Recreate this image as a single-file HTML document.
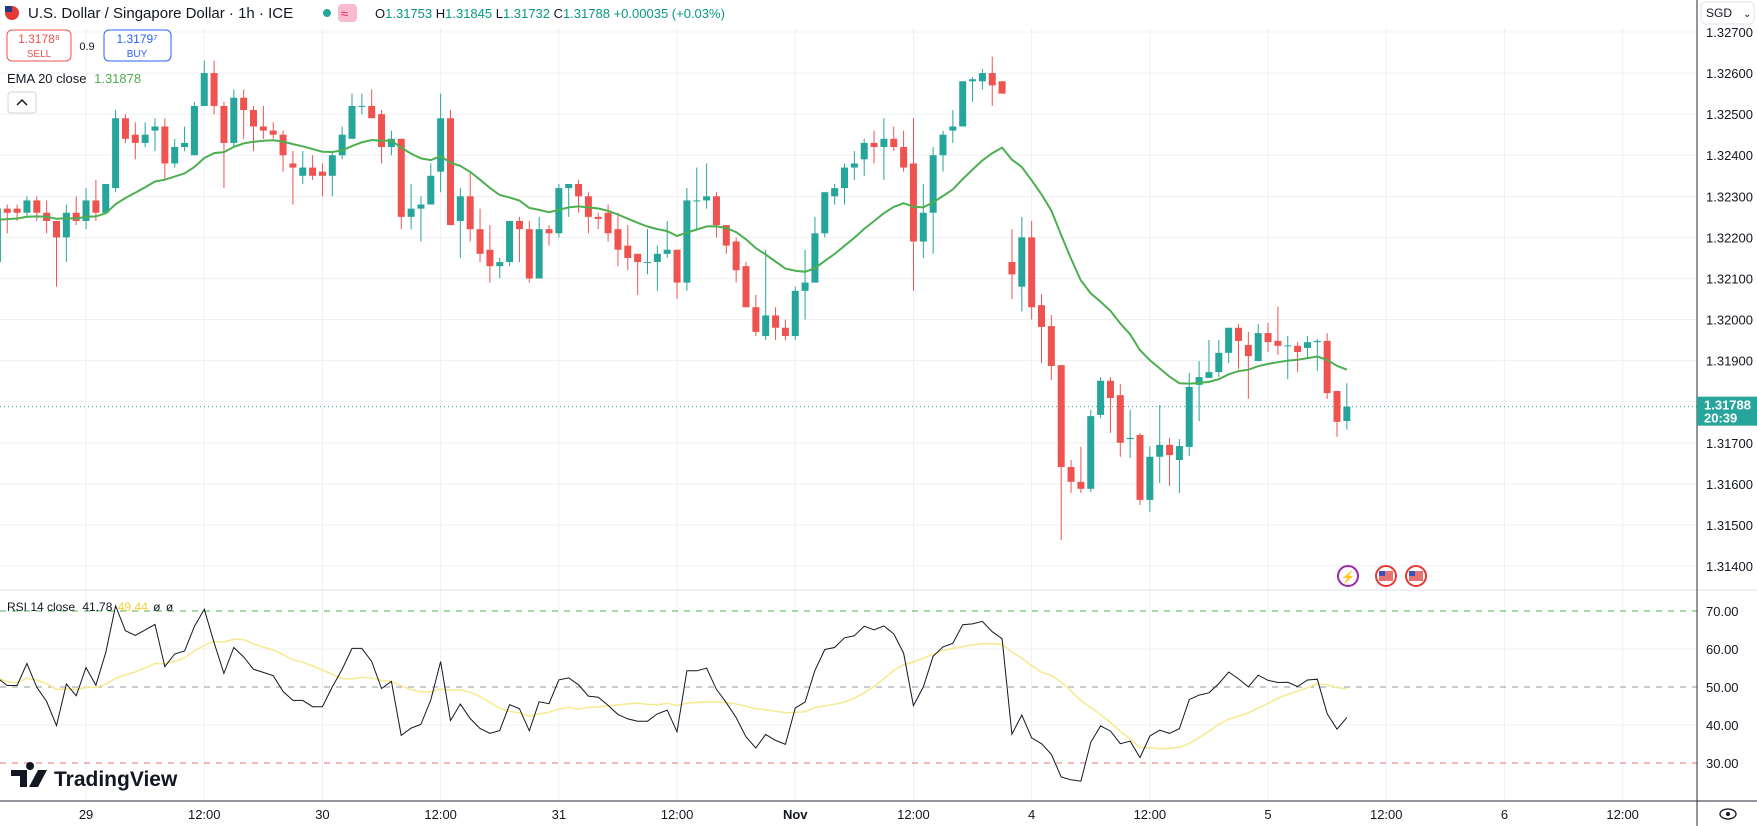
<!DOCTYPE html>
<html><head><meta charset="utf-8"><style>
html,body{margin:0;padding:0;background:#fff;}
svg{display:block;font-family:"Liberation Sans",sans-serif;}
</style></head><body>
<svg id="chart" width="1757" height="826" viewBox="0 0 1757 826" xmlns="http://www.w3.org/2000/svg">
<rect x="0" y="0" width="1757" height="826" fill="#fff"/>
<g id="grid"></g>
<g id="candles"></g>
<g id="ema"></g>
<g id="rsi"></g>
<g id="axes"></g>
<g>
  <circle cx="12" cy="13" r="7" fill="#e53935"/>
  <rect x="5" y="6" width="7" height="6" fill="#1e3a8a"/>
  <text x="28" y="18" font-size="15" fill="#131722">U.S. Dollar / Singapore Dollar · 1h · ICE</text>
  <circle cx="327" cy="13" r="4" fill="#26a69a"/>
  <rect x="338" y="4" width="19" height="18" rx="4" fill="#f8bbd0"/>
  <text x="341" y="18" font-size="13" fill="#e91e63">≈</text>
  <text x="375" y="18" font-size="13" fill="#131722">O<tspan fill="#089981">1.31753</tspan> H<tspan fill="#089981">1.31845</tspan> L<tspan fill="#089981">1.31732</tspan> C<tspan fill="#089981">1.31788</tspan> <tspan fill="#089981">+0.00035 (+0.03%)</tspan></text>
  <rect x="7" y="30" width="64" height="31" rx="5" fill="#fff" stroke="#ef5350"/>
  <text x="39" y="43" font-size="12" fill="#ef5350" text-anchor="middle">1.3178⁸</text>
  <text x="39" y="57" font-size="10" fill="#ef5350" text-anchor="middle">SELL</text>
  <text x="87" y="50" font-size="11" fill="#131722" text-anchor="middle">0.9</text>
  <rect x="104" y="30" width="67" height="31" rx="5" fill="#fff" stroke="#2962ff"/>
  <text x="137" y="43" font-size="12" fill="#2962ff" text-anchor="middle">1.3179⁷</text>
  <text x="137" y="57" font-size="10" fill="#2962ff" text-anchor="middle">BUY</text>
  <text x="7" y="83" font-size="13" fill="#131722">EMA 20 close <tspan fill="#4caf50" dx="4">1.31878</tspan></text>
  <rect x="8" y="92" width="28" height="21" rx="3" fill="#fff" stroke="#d1d4dc"/>
  <path d="M17 105 L22 100 L27 105" fill="none" stroke="#131722" stroke-width="1.5"/>
  <text x="7" y="611" font-size="12" fill="#131722">RSI 14 close <tspan dx="4">41.78</tspan> <tspan fill="#f2d23a" dx="2">49.44</tspan> <tspan dx="2">ø</tspan> <tspan dx="2">ø</tspan></text>
  <g>
    <path d="M11 770 h16 v17 h-7 v-11 h-9z M30 770 a4 4 0 1 1 0.1 0z M38 770 h9 l-9 17 h-9z" fill="#131722"/>
    <text x="54" y="786" font-size="21" font-weight="bold" fill="#131722">TradingView</text>
  </g>
  <rect x="1701" y="2" width="53" height="22" rx="4" fill="#fff" stroke="#e0e3eb"/>
  <text x="1706" y="17" font-size="12" fill="#131722">SGD</text>
  <text x="1743" y="17" font-size="10" fill="#131722">⌄</text>
  <g>
    <circle cx="1348" cy="576" r="10" fill="#fff" stroke="#9c27b0" stroke-width="2"/>
    <text x="1348" y="581" font-size="12" fill="#9c27b0" text-anchor="middle">⚡</text>
    <circle cx="1386" cy="576" r="10" fill="#fff" stroke="#e53935" stroke-width="2"/>
    <rect x="1379" y="571" width="14" height="10" fill="#e57373"/><rect x="1379" y="571" width="6" height="5" fill="#3f51b5"/>
    <circle cx="1416" cy="576" r="10" fill="#fff" stroke="#e53935" stroke-width="2"/>
    <rect x="1409" y="571" width="14" height="10" fill="#e57373"/><rect x="1409" y="571" width="6" height="5" fill="#3f51b5"/>
  </g>
  <g>
    <ellipse cx="1728" cy="814" rx="8" ry="5" fill="none" stroke="#131722" stroke-width="1.3"/>
    <circle cx="1728" cy="814" r="2" fill="#131722"/>
  </g>
</g>
</svg>
<script>
const opens=[1.3214,1.3227,1.3227,1.3226,1.3229,1.3226,1.3224,1.3220,1.3226,1.3224,1.3229,1.3226,1.3232,1.3249,1.3245,1.3243,1.3246,1.3247,1.3238,1.3242,1.3240,1.3252,1.3260,1.3252,1.3243,1.3254,1.3251,1.3247,1.3246,1.3245,1.3238,1.3235,1.3237,1.3236,1.3235,1.3240,1.3244,1.3252,1.3252,1.3250,1.3242,1.3244,1.3225,1.3227,1.3228,1.3236,1.3249,1.3224,1.3230,1.3222,1.3217,1.3213,1.3214,1.3224,1.3222,1.3210,1.3222,1.3221,1.3232,1.3233,1.3230,1.3225,1.3226,1.3222,1.3218,1.3216,1.3214,1.3214,1.3216,1.3217,1.3209,1.3229,1.3229,1.3230,1.3223,1.3219,1.3213,1.3203,1.3196,1.3201,1.3198,1.3196,1.3207,1.3209,1.3221,1.3230,1.3232,1.3237,1.3239,1.3243,1.3242,1.3244,1.3242,1.3238,1.3219,1.3226,1.3240,1.3246,1.3247,1.3258,1.3258,1.3260,1.3258,1.3214,1.3208,1.3220,1.32035,1.31984,1.31889,1.31641,1.31605,1.31588,1.31768,1.31851,1.31816,1.31709,1.31719,1.31561,1.31666,1.31695,1.31658,1.31690,1.31841,1.31858,1.31872,1.31919,1.31980,1.31938,1.31899,1.31967,1.31948,1.31936,1.31936,1.31931,1.31945,1.31948,1.31826,1.31753];
const highs=[1.3228,1.3228,1.3228,1.3230,1.3230,1.3229,1.3224,1.3228,1.3230,1.3232,1.3234,1.3233,1.3251,1.3250,1.3248,1.3248,1.3249,1.3249,1.3244,1.3247,1.3253,1.3263,1.3263,1.3253,1.3256,1.3256,1.3252,1.3252,1.3248,1.3246,1.3241,1.3241,1.3240,1.3238,1.3241,1.3247,1.3255,1.3255,1.3256,1.3251,1.3246,1.3244,1.3233,1.3230,1.3238,1.3255,1.3251,1.3232,1.3236,1.3227,1.3223,1.3215,1.3224,1.3225,1.3224,1.3225,1.3223,1.3233,1.3233,1.3234,1.3231,1.3226,1.3228,1.3226,1.3223,1.3216,1.3222,1.3218,1.3224,1.3217,1.3232,1.3237,1.3238,1.3231,1.3223,1.3220,1.3214,1.3206,1.3217,1.3203,1.3200,1.3208,1.3217,1.3225,1.3231,1.3233,1.3238,1.3241,1.3244,1.3246,1.3249,1.3247,1.3246,1.3249,1.3233,1.3242,1.3246,1.3251,1.3258,1.3259,1.3261,1.3264,1.3258,1.3222,1.3225,1.3224,1.32062,1.32011,1.31889,1.31658,1.31690,1.31780,1.31860,1.31860,1.31843,1.31780,1.31724,1.31692,1.31792,1.31712,1.31709,1.31870,1.31899,1.31950,1.31950,1.31980,1.31989,1.31970,1.31989,1.31992,1.32031,1.31960,1.31945,1.31960,1.31953,1.31967,1.31826,1.31845];
const lows=[1.3213,1.3221,1.3224,1.3225,1.3224,1.3221,1.3208,1.3214,1.3223,1.3222,1.3224,1.3226,1.3231,1.3243,1.3239,1.3242,1.3241,1.3234,1.3237,1.3241,1.3240,1.3252,1.3250,1.3232,1.3242,1.3244,1.3241,1.3244,1.3244,1.3236,1.3228,1.3233,1.3234,1.3230,1.3230,1.3239,1.3244,1.3250,1.3249,1.3238,1.3240,1.3222,1.3222,1.3219,1.3228,1.3231,1.3223,1.3215,1.3219,1.3214,1.3209,1.3210,1.3213,1.3214,1.3209,1.3210,1.3218,1.3220,1.3225,1.3226,1.3221,1.3222,1.3219,1.3213,1.3212,1.3206,1.3211,1.3207,1.3215,1.3205,1.3207,1.3222,1.3227,1.3220,1.3216,1.3209,1.3203,1.3196,1.3195,1.3195,1.3195,1.3195,1.3200,1.3209,1.3220,1.3228,1.3228,1.3234,1.3235,1.3238,1.3234,1.3241,1.3236,1.3207,1.3215,1.3216,1.3236,1.3243,1.3247,1.3253,1.3256,1.3252,1.3255,1.3205,1.3202,1.3200,1.31894,1.31853,1.31463,1.31578,1.31578,1.31580,1.31760,1.31724,1.31666,1.31663,1.31549,1.31532,1.31602,1.31595,1.31578,1.31668,1.31753,1.31858,1.31860,1.31894,1.31880,1.31807,1.31899,1.31921,1.31914,1.31855,1.31872,1.31904,1.31875,1.31807,1.31714,1.31732];
const closes=[1.3227,1.3226,1.3226,1.3229,1.3226,1.3224,1.3220,1.3226,1.3224,1.3229,1.3226,1.3233,1.3249,1.3244,1.3243,1.3245,1.3247,1.3238,1.3242,1.3243,1.3252,1.3260,1.3252,1.3243,1.3254,1.3251,1.3247,1.3246,1.3245,1.3240,1.3237,1.3237,1.3235,1.3235,1.3240,1.3245,1.3252,1.3252,1.3249,1.3242,1.3244,1.3225,1.3227,1.3228,1.3235,1.3249,1.3223,1.3230,1.3222,1.3216,1.3213,1.3214,1.3224,1.3222,1.3210,1.3222,1.3221,1.3232,1.3233,1.3230,1.3225,1.32245,1.3221,1.3217,1.3215,1.3214,1.3214,1.3216,1.3217,1.3209,1.3229,1.3229,1.3230,1.3223,1.3218,1.3212,1.3203,1.3197,1.3201,1.3198,1.3196,1.3207,1.3209,1.3221,1.3231,1.3232,1.3237,1.3238,1.3243,1.3242,1.3244,1.3242,1.3237,1.3219,1.3226,1.3240,1.3245,1.3247,1.3258,1.32585,1.3260,1.3257,1.3255,1.3211,1.3220,1.3203,1.31982,1.31887,1.31641,1.31605,1.31588,1.31765,1.31851,1.31809,1.31700,1.31712,1.31561,1.31666,1.31695,1.31670,1.31692,1.31836,1.31860,1.31872,1.31919,1.31980,1.31948,1.31911,1.31967,1.31945,1.31936,1.31937,1.31921,1.31945,1.31948,1.31821,1.31751,1.31788];
const priceTicks=[1.327,1.326,1.325,1.324,1.323,1.322,1.321,1.320,1.319,1.318,1.317,1.316,1.315,1.314];
const rsiTicks=[70,60,50,40,30];
const timeLabels=["29","12:00","30","12:00","31","12:00","Nov","12:00","4","12:00","5","12:00","6","12:00"];
const emaSeed=1.3224;
const lastPrice=1.31788;

const NS="http://www.w3.org/2000/svg";
const PLOT_R=1697;
function xOf(i){return -2.6+i*9.85;}
function yP(p){return 32+(1.327-p)*41080;}
function yR(v){return 687-(v-50)*3.8;}
function mk(tag,attrs,parent){const e=document.createElementNS(NS,tag);for(const k in attrs)e.setAttribute(k,attrs[k]);parent.appendChild(e);return e;}
const grid=document.getElementById('grid'),cg=document.getElementById('candles'),eg=document.getElementById('ema'),rg=document.getElementById('rsi'),ax=document.getElementById('axes');

priceTicks.forEach(p=>{const y=yP(p);
 const l=mk('line',{x1:0,x2:PLOT_R,y1:y,y2:y,stroke:'#eef0f3'},grid);
 
 
 const t=mk('text',{x:1706,y:y+5,'font-size':13,fill:'#131722'},ax);t.textContent=p.toFixed(5);
 
 
});
timeLabels.forEach((s,k)=>{const x=xOf(9+12*k);
 const l=mk('line',{x1:x,x2:x,y1:28,y2:801,stroke:'#eef0f3'},grid);
 
 
 const t=mk('text',{x:x,y:819,'font-size':13,fill:'#131722','text-anchor':'middle','font-weight':s==='Nov'?'bold':'normal'},ax);t.textContent=s;
 
 
});
[60,40].forEach(v=>{mk('line',{x1:0,x2:PLOT_R,y1:yR(v),y2:yR(v),stroke:'#eef0f3'},grid);});
[[70,'#4caf50'],[50,'#9598a1'],[30,'#e57373']].forEach(([v,c])=>{const l=mk('line',{x1:0,x2:PLOT_R,y1:yR(v),y2:yR(v),stroke:c,'stroke-dasharray':'6 6'},grid);
 
 });
rsiTicks.forEach(v=>{const t=mk('text',{x:1706,y:yR(v)+5,'font-size':13,fill:'#131722'},ax);t.textContent=v.toFixed(2);
 
 });
mk('line',{x1:0,x2:1757,y1:590,y2:590,stroke:'#e0e3eb'},ax);
mk('line',{x1:PLOT_R,x2:PLOT_R,y1:0,y2:826,stroke:'#2a2e39'},ax);
mk('line',{x1:0,x2:1757,y1:801,y2:801,stroke:'#2a2e39'},ax);
const ly=yP(lastPrice);
const lpl=mk('line',{x1:0,x2:PLOT_R,y1:ly,y2:ly,stroke:'#26a69a','stroke-dasharray':'1 3'},grid);


const lpb=mk('rect',{x:PLOT_R,y:ly-10,width:60,height:29,fill:'#26a69a'},ax);


const lpt=mk('text',{x:1704,y:ly+3,'font-size':13,'font-weight':'bold',fill:'#fff'},ax);lpt.textContent=lastPrice.toFixed(5);
const lpt2=mk('text',{x:1704,y:ly+16,'font-size':13,'font-weight':'bold',fill:'#fff'},ax);lpt2.textContent='20:39';

closes.forEach((c,i)=>{const o=opens[i],x=xOf(i),up=c>=o,col=up?'#26a69a':'#ef5350';
 const g=mk('g',{},cg);
 
 
 mk('line',{x1:x,x2:x,y1:yP(highs[i]),y2:yP(lows[i]),stroke:col,'stroke-width':1},g);
 const t=Math.min(yP(o),yP(c)),h=Math.max(1,Math.abs(yP(o)-yP(c)));
 mk('rect',{x:x-3.5,y:t,width:7,height:h,fill:col},g);
});
let e=emaSeed;const k=2/21;const ep=[];
closes.forEach((c,i)=>{e=c*k+e*(1-k);ep.push(xOf(i).toFixed(1)+','+yP(e).toFixed(1));});
const el=mk('polyline',{points:ep.join(' '),fill:'none',stroke:'#4caf50','stroke-width':2},eg);


let ag=0.00011,al=0.0001;const rsi=[];
closes.forEach((c,i)=>{const prev=i?closes[i-1]:c;const d=c-prev;ag=(ag*13+Math.max(d,0))/14;al=(al*13+Math.max(-d,0))/14;rsi.push(100-100/(1+ag/al));});
const ma=rsi.map((v,i)=>{const s=rsi.slice(Math.max(0,i-13),i+1);return s.reduce((a,b)=>a+b,0)/s.length;});
const mal=mk('polyline',{points:ma.map((v,i)=>xOf(i).toFixed(1)+','+yR(v).toFixed(1)).join(' '),fill:'none',stroke:'#f7e98e','stroke-width':1.5},rg);


const rl=mk('polyline',{points:rsi.map((v,i)=>xOf(i).toFixed(1)+','+yR(v).toFixed(1)).join(' '),fill:'none',stroke:'#131722','stroke-width':1},rg);


</script>
</body></html>
